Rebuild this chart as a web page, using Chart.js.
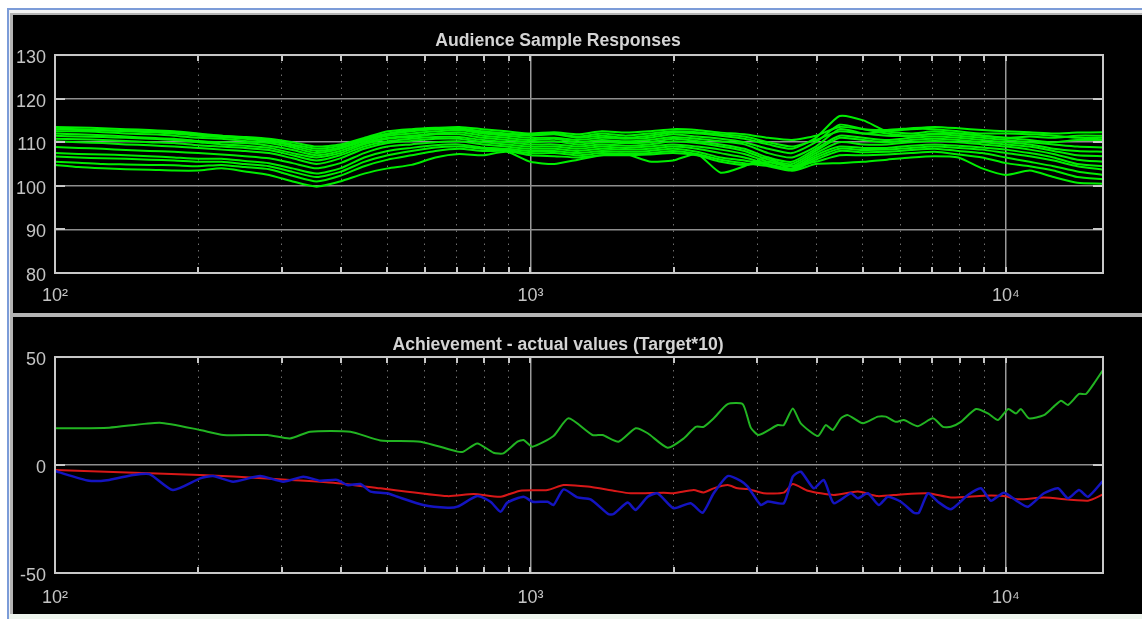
<!DOCTYPE html>
<html>
<head>
<meta charset="utf-8">
<script src="https://cdn.jsdelivr.net/npm/chart.js@4.4.1/dist/chart.umd.min.js"></script>
<style>
	body { margin: 0; width: 1142px; height: 619px; overflow: hidden; position: relative; background: #fff; }
	#win { position: absolute; left: 7px; top: 8px; right: 0; bottom: 0; background: #7c9cd8; }
	#edge { position: absolute; left: 9px; top: 10px; right: 0; bottom: 0; background: #f2f2f2; }
	#inner { position: absolute; left: 10px; top: 13px; right: 0; bottom: 0; background: #b4b4b4; }
	#foot { position: absolute; left: 9px; right: 0; top: 614px; bottom: 0; background: #eef5ee; }
	.panel { position: absolute; left: 13px; width: 1129px; background: #000; }
	#topPanel { top: 15px; height: 298px; }
	#botPanel { top: 317px; height: 297px; }
	canvas { display: block; }
</style>
</head>
<body>
<div id="win"></div>
<div id="edge"></div>
<div id="inner"></div>
<div id="foot"></div>
<div class="panel" id="topPanel"><canvas id="respChart" width="1129" height="298"></canvas></div>
<div class="panel" id="botPanel"><canvas id="achChart" width="1129" height="297"></canvas></div>
<script>
// frecuencias (Hz) de las respuestas, 1/6 de octava
const respFreq = [100, 112, 126, 141, 158, 178, 200, 224, 251, 282, 316, 355, 398, 447, 501, 562, 631, 708, 794, 891, 1000, 1122, 1259, 1413, 1585, 1778, 1995, 2239, 2512, 2818, 3162, 3548, 3981, 4467, 5012, 5623, 6310, 7079, 7943, 8913, 10000, 11220, 12589, 14125, 16000];

const resp00 = [113, 113, 112.8, 112.6, 112.5, 112.2, 111.8, 111.5, 111, 110.5, 109.5, 108.5, 109.2, 110.8, 112, 112.8, 113.2, 113.2, 112.5, 112, 111.8, 112, 111.3, 112, 111.5, 112, 112.5, 112.3, 111.8, 111.3, 110, 109, 110.5, 112.5, 112, 112.5, 113, 113, 112.5, 112, 112, 111.8, 111.5, 111, 111];
const resp01 = [113.5, 113.4, 113.2, 113, 112.8, 112.5, 112, 111.5, 111.2, 110.8, 110, 109, 109.5, 111, 112.5, 113, 113.3, 113.5, 113, 112.5, 112, 112.3, 111.8, 112.5, 112.2, 112.5, 113, 112.8, 112.2, 111.8, 111, 110.5, 111.5, 113.5, 113, 112.8, 113.2, 113.5, 113.2, 112.8, 112.5, 112.3, 112, 112.2, 112.3];
const resp02 = [113, 112.8, 112.7, 112.5, 112.3, 112, 111.5, 111.2, 110.8, 110.2, 109.2, 108, 108.8, 110.5, 111.8, 112.5, 113, 113, 112.3, 111.8, 111.5, 111.8, 111, 111.5, 111, 111.5, 112.2, 112, 111.5, 110.8, 109.5, 108.5, 111, 116, 115, 112.5, 112, 112.5, 112, 111.5, 111, 111.3, 111, 111.5, 111.5];
const resp03 = [112.5, 112.5, 112.3, 112, 111.8, 111.5, 111, 110.8, 110.3, 109.8, 108.8, 107.5, 108.5, 110.2, 111.5, 112, 112.5, 112.8, 112, 111.5, 111, 111, 110.5, 111, 110.8, 111, 111.8, 111.3, 110.8, 110, 108.5, 107.5, 110, 114, 113, 112, 111.5, 112, 112, 111.5, 111, 110.5, 110, 110.5, 110.5];
const resp04 = [112, 111.8, 111.6, 111.3, 111, 110.8, 110.3, 110, 109.8, 109.2, 108.2, 107, 108, 109.8, 111, 111.5, 112, 112.3, 111.5, 111, 110.5, 110.8, 110, 110.5, 110.2, 110.5, 111.2, 110.8, 110.2, 109.5, 107.5, 106.5, 109, 113, 112, 111.5, 111.5, 111.8, 111.5, 111, 110.5, 110, 109.5, 109, 108.8];
const resp05 = [111.5, 111.3, 111.2, 111, 110.8, 110.5, 110, 109.5, 109.2, 108.7, 107.5, 106.5, 107.5, 109.5, 110.8, 111.2, 111.8, 111.8, 111, 110.5, 110, 110.2, 109.5, 110, 109.8, 110, 110.8, 110.3, 109.5, 108.5, 106.5, 105.5, 108.5, 111.5, 111, 110.5, 111, 111.3, 111, 110.5, 110, 109.5, 108.5, 108, 107.8];
const resp06 = [110.8, 110.7, 110.5, 110.3, 110, 109.8, 109.3, 109, 108.7, 108.2, 107, 105.8, 107, 109, 110.2, 110.8, 111.2, 111.2, 110.5, 110, 109.5, 109.5, 109, 109.5, 109.2, 109.5, 110.2, 109.8, 109, 108, 106, 105, 108, 111, 110.5, 110, 110.5, 110.8, 110.5, 110, 109.5, 109, 108, 107, 106.8];
const resp07 = [110.2, 110, 109.8, 109.5, 109.3, 109, 108.7, 108.3, 108, 107.5, 106.3, 105, 106.3, 108.5, 109.8, 110.3, 110.8, 110.8, 110, 109.5, 109, 109, 108.5, 109, 108.7, 109, 109.5, 109, 108.3, 107.3, 105.5, 104.5, 107.5, 110, 109.5, 109.5, 110, 110.3, 110, 109.5, 109, 108.3, 107.3, 106, 105.5];
const resp08 = [108.9, 108.7, 108.5, 108.2, 108, 107.8, 107.5, 107.2, 106.8, 106.3, 105.2, 104, 105.2, 107.5, 109, 109.5, 110, 110.2, 109.5, 109, 108.5, 108.5, 108, 108.5, 108.3, 108.5, 109, 108.5, 107.5, 106.5, 105, 104, 107, 109, 108.7, 108.7, 109.2, 109.5, 109.2, 108.8, 108.3, 107.5, 106.5, 105, 104.5];
const resp09 = [107.5, 107.3, 107.2, 107, 106.8, 106.5, 106.2, 106.2, 105.7, 105.2, 104, 102.8, 104, 106.5, 108, 108.7, 109.3, 109.5, 108.8, 108.5, 108, 108, 107.5, 108, 107.8, 108, 108.5, 107.8, 106.5, 105.8, 104.8, 103.8, 106.5, 108.5, 108.2, 108.3, 108.7, 109, 108.7, 108.3, 107.5, 106.8, 105.8, 104.5, 103.7];
const resp10 = [106.7, 106.5, 106.3, 106.2, 106, 105.8, 105.5, 105.5, 105, 104.5, 103.2, 102, 103.2, 105.5, 107, 108, 108.8, 109, 108.5, 108.2, 107.5, 107.5, 107, 107.5, 107.3, 107.5, 108, 107.3, 106, 105.2, 104.5, 103.5, 106, 108, 107.7, 107.8, 108.2, 108.5, 108, 107.5, 106.5, 105.5, 104.5, 103.3, 102.5];
const resp11 = [105.5, 105.3, 105, 104.9, 104.8, 104.7, 104.5, 104.8, 104.3, 103.8, 102.3, 101, 102.3, 104.5, 106, 107, 108, 108.5, 108, 108, 107, 106.8, 106.5, 107, 107, 107.2, 107.5, 107, 105.5, 104.8, 105.5, 104.5, 105.5, 107, 107, 107.2, 107.5, 107.8, 107.2, 106.5, 105.2, 104.5, 103.5, 102, 101.5];
const resp12 = [104.8, 104.3, 104, 103.8, 103.7, 103.5, 103.5, 104, 103.3, 102.5, 101, 99.8, 101, 102.8, 104, 104.8, 106.5, 107.3, 107, 107.8, 105.5, 105, 106, 107, 107.3, 105.6, 105.8, 107.3, 103, 104.5, 106.5, 103.5, 105, 105.2, 105.5, 106, 106.5, 106.8, 106.5, 104, 102.5, 103.5, 102, 100.7, 100.5];
const responseSets = [resp00, resp01, resp02, resp03, resp04, resp05, resp06, resp07, resp08, resp09, resp10, resp11, resp12];

// panel inferior
const greenFreq = [100, 130, 166, 202, 226, 280, 312, 344, 418, 483, 587, 702, 723, 773, 836, 877, 939, 967, 1010, 1118, 1202, 1350, 1418, 1532, 1664, 1764, 1943, 2100, 2226, 2313, 2428, 2598, 2795, 2906, 3020, 3311, 3410, 3562, 3702, 4020, 4180, 4324, 4495, 4651, 5000, 5377, 5590, 5866, 6100, 6527, 7020, 7369, 7660, 8040, 8647, 9165, 9620, 10100, 10500, 10755, 11180, 12020, 12560, 13055, 13505, 14245, 14735, 15320, 16000];
const greenVals = [17, 17.3, 19.6, 16.2, 13.9, 13.9, 12.3, 15.4, 15.4, 11.4, 10.8, 6.2, 6.2, 10, 5.7, 5.4, 10.8, 11.6, 8.5, 13.4, 21.6, 13.9, 13.9, 10.8, 17, 14.7, 8, 12.3, 17.7, 17.7, 21.6, 28.2, 28.2, 17.3, 13.9, 18.5, 18.5, 26.2, 19.3, 13.4, 18.5, 16.2, 21.6, 23.1, 19.3, 22.4, 22.4, 20, 20.8, 18, 21.6, 17.7, 17.7, 20, 25.9, 23.9, 20.8, 25.9, 23.9, 25.9, 21.6, 23.1, 26.7, 29.8, 27.8, 32.9, 32.9, 37.8, 44];
const redFreq = [100, 202, 279, 385, 483, 669, 759, 865, 952, 1086, 1174, 1318, 1495, 1624, 1905, 2000, 2204, 2313, 2428, 2598, 2728, 2863, 3094, 3410, 3562, 3831, 4345, 4881, 5377, 6010, 6854, 7660, 8987, 9904, 10600, 12020, 14880, 16000];
const redVals = [-2.3, -4.6, -6.2, -8.2, -10.8, -14.4, -13.4, -14.7, -11.9, -11.6, -9.3, -10, -11.9, -13.1, -12.8, -13.1, -11.6, -12.7, -10.8, -9.3, -10.8, -11.1, -13.1, -12.8, -8.8, -11.9, -13.9, -12.3, -14.4, -13.6, -13.1, -15, -14.2, -14.4, -15.9, -15.1, -16.5, -13.6];
const blueFreq = [100, 118, 130, 146, 158, 177, 202, 215, 237, 270, 302, 333, 361, 392, 412, 439, 461, 500, 525, 595, 669, 702, 773, 824, 865, 894, 967, 1010, 1086, 1118, 1174, 1256, 1338, 1460, 1495, 1601, 1664, 1764, 1851, 2000, 2172, 2302, 2428, 2598, 2768, 2863, 3050, 3155, 3410, 3562, 3702, 3943, 4140, 4345, 4718, 4881, 5123, 5404, 5645, 6010, 6403, 6560, 6854, 7192, 7660, 8318, 8859, 9299, 9904, 10600, 11125, 12020, 12867, 13505, 14245, 14880, 16000];
const blueVals = [-2.8, -7.3, -6.9, -4.6, -4.2, -11.6, -6.2, -5.1, -7.7, -5.1, -7.7, -5.4, -7.3, -6.9, -9.3, -8.8, -12.3, -13.1, -14.7, -18.5, -19.8, -19.3, -14.4, -17, -21.6, -17.4, -14.7, -17, -17, -18.5, -11.3, -15, -15.9, -22.8, -22.7, -17.4, -20.8, -14.7, -13.1, -20, -17.7, -22.1, -13.1, -5.1, -7.3, -10, -18.5, -16.9, -17.7, -5.4, -3.1, -10.8, -6.9, -17.7, -13.1, -15.4, -13.1, -18.5, -14.7, -17, -22.1, -22.1, -13.1, -17, -20.5, -13.9, -10.8, -16.5, -12.8, -17, -19.3, -13.1, -10.8, -15.4, -11.6, -14.7, -7.3];

// marcas del eje x
const freqTicks = [100, 200, 300, 400, 500, 600, 700, 800, 900, 1000, 2000, 3000, 4000, 5000, 6000, 7000, 8000, 9000, 10000];
const decadeTicks = [100, 1000, 10000];
const decadeLabels = ['10²', '10³', '10⁴'];

const fontFamily = "'Liberation Sans', Arial, sans-serif";
const textColor = '#c4c4c4';
const frameColor = '#c8c8c8';

const toPoints = (freq, vals) => freq.map((f, i) => ({ x: f, y: vals[i] }));
const isDecade = (v) => decadeTicks.includes(v);

// caja estilo MATLAB con marcas hacia dentro
const boxPlugin = {
	id: 'matlabBox',
	afterDraw(chart) {
		const { ctx, chartArea: a, scales } = chart;
		ctx.save();
		ctx.strokeStyle = frameColor;
		ctx.lineWidth = 2;
		ctx.strokeRect(a.left, a.top, a.right - a.left, a.bottom - a.top);
		ctx.beginPath();
		scales.x.ticks.forEach((t) => {
			const px = Math.round(scales.x.getPixelForValue(t.value));
			ctx.moveTo(px, a.bottom);
			ctx.lineTo(px, a.bottom - 6);
			ctx.moveTo(px, a.top);
			ctx.lineTo(px, a.top + 6);
		});
		scales.y.ticks.forEach((t) => {
			const py = Math.round(scales.y.getPixelForValue(t.value));
			ctx.moveTo(a.left, py);
			ctx.lineTo(a.left + 10, py);
			ctx.moveTo(a.right, py);
			ctx.lineTo(a.right - 10, py);
		});
		ctx.stroke();
		ctx.restore();
	},
};

function makePanel(canvasId, title, titlePad, yAxis, datasets, axisHeight, labelPad) {
	return new Chart(document.getElementById(canvasId).getContext('2d'), {
		type: 'line',
		data: { datasets },
		plugins: [boxPlugin],
		options: {
			responsive: false,
			animation: false,
			events: [],
			layout: { autoPadding: false, padding: { left: 0, right: 39, top: 0, bottom: 0 } },
			elements: { point: { radius: 0 }, line: { tension: 0.2, borderWidth: 2 } },
			scales: {
				x: {
					type: 'logarithmic',
					min: 100,
					max: 16000,
					afterBuildTicks: (scale) => {
						scale.ticks = freqTicks.map((v) => ({ value: v }));
					},
					afterFit: (scale) => {
						scale.height = axisHeight;
					},
					ticks: {
						autoSkip: false,
						maxRotation: 0,
						padding: labelPad,
						color: textColor,
						font: { family: fontFamily, size: 18 },
						callback: (v) => (isDecade(v) ? decadeLabels[decadeTicks.indexOf(v)] : ''),
					},
					grid: {
						drawTicks: false,
						color: (c) => (c.tick && isDecade(c.tick.value) ? '#9a9a9a' : '#6e6e6e'),
						lineWidth: (c) => (c.tick && isDecade(c.tick.value) ? 1.5 : 1),
					},
					border: {
						display: false,
						dash: (c) => (c.tick && !isDecade(c.tick.value) ? [1.5, 5] : []),
					},
				},
				y: yAxis,
			},
			plugins: {
				legend: { display: false },
				tooltip: { enabled: false },
				title: {
					display: true,
					text: title,
					color: '#d4d4d4',
					font: { family: fontFamily, size: 17.6, weight: 'bold' },
					padding: titlePad,
				},
			},
		},
	});
}

function yAxisFor(min, max, step) {
	return {
		min,
		max,
		afterFit: (scale) => {
			scale.width = 42;
		},
		ticks: {
			stepSize: step,
			padding: 9,
			labelOffset: 3,
			color: textColor,
			font: { family: fontFamily, size: 18 },
		},
		grid: { drawTicks: false, color: '#8e8e8e', lineWidth: 1.5 },
		border: { display: false },
	};
}

// panel superior
makePanel(
	'respChart',
	'Audience Sample Responses',
	{ top: 16, bottom: 2.9 },
	yAxisFor(80, 130, 10),
	responseSets.map((vals) => ({
		data: toPoints(respFreq, vals),
		borderColor: '#00ee00',
	})),
	40,
	12.7,
);

// panel inferior (azul encima)
makePanel(
	'achChart',
	'Achievement - actual values (Target*10)',
	{ top: 17.4, bottom: 1.5 },
	yAxisFor(-50, 50, 50),
	[
		{ data: toPoints(blueFreq, blueVals), borderColor: '#1414c0', borderWidth: 2.5 },
		{ data: toPoints(redFreq, redVals), borderColor: '#d81818' },
		{ data: toPoints(greenFreq, greenVals), borderColor: '#22b422' },
	],
	41,
	14.2,
);
</script>
</body>
</html>
